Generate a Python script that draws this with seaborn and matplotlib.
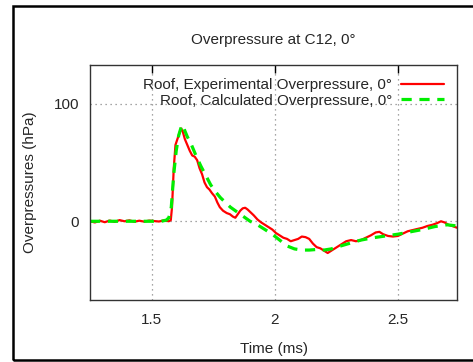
import numpy as np
import pandas as pd
import matplotlib
matplotlib.use("Agg")
import matplotlib.pyplot as plt
from matplotlib.patches import Rectangle
import seaborn as sns

# values
exp_time = [1.25, 1.27, 1.29, 1.31, 1.33, 1.35, 1.37, 1.39, 1.41, 1.43, 1.45, 1.47,
            1.49, 1.51, 1.53, 1.55, 1.57, 1.578, 1.583, 1.59, 1.597, 1.605, 1.613, 1.62,
            1.627, 1.635, 1.645, 1.655, 1.665, 1.675, 1.685, 1.695, 1.705, 1.715, 1.725,
            1.735, 1.745, 1.757, 1.767, 1.777, 1.79, 1.805, 1.818, 1.83, 1.84, 1.85, 1.86,
            1.87, 1.88, 1.89, 1.9, 1.915, 1.93, 1.945, 1.96, 1.975, 1.99, 2.005, 2.02,
            2.035, 2.05, 2.065, 2.08, 2.095, 2.11, 2.125, 2.14, 2.155, 2.17, 2.185, 2.2,
            2.215, 2.23, 2.245, 2.26, 2.275, 2.29, 2.31, 2.33, 2.35, 2.37, 2.39, 2.41,
            2.425, 2.44, 2.46, 2.48, 2.5, 2.52, 2.54, 2.56, 2.58, 2.6, 2.62, 2.64, 2.66,
            2.675, 2.69, 2.705, 2.72, 2.74]
exp_press = [0, -1, 0.5, -0.8, 0.6, -0.5, 1, 0, 0.8, -0.4, 0.5, -0.3,
             0.6, 0.2, -0.2, 0.8, 0, 1, 12, 45, 65, 70, 75, 79,
             76, 70, 65, 60, 56, 55, 52, 45, 40, 33, 29,
             27, 24, 21, 16, 12, 9, 7, 6, 4, 3, 6, 9,
             11, 11.5, 10, 8, 5, 1.5, -1, -3, -5, -7, -10, -12,
             -14, -15, -17, -16, -15, -13, -13.5, -15, -19, -22, -23, -25,
             -27, -25, -23, -21, -19, -17, -16, -17, -16, -14, -12, -9.5,
             -9, -11, -12.5, -13, -12.5, -10.5, -8.5, -7.5, -6.5, -5.5, -4, -3, -1.5,
             0, -1, -3, -4, -5.5]

calc_time = [1.25, 1.3, 1.35, 1.4, 1.45, 1.5, 1.54, 1.56, 1.57, 1.58, 1.59, 1.6,
             1.61, 1.62, 1.627, 1.635, 1.645, 1.66, 1.68, 1.7, 1.72, 1.74, 1.76, 1.78,
             1.8, 1.82, 1.84, 1.86, 1.88, 1.9, 1.93, 1.96, 1.99, 2.02, 2.05, 2.08,
             2.11, 2.14, 2.17, 2.2, 2.23, 2.26, 2.3, 2.35, 2.4, 2.45, 2.5, 2.55,
             2.6, 2.65, 2.7, 2.74]
calc_press = [0, 0, 0, 0, 0, 0, 0, 1, 3, 12, 40, 60,
              73, 80, 82, 77, 72, 66, 56, 47, 39, 31, 25, 20,
              16, 12, 9, 6, 3, 0, -3, -7, -11, -16, -21, -23.5,
              -24.5, -24.5, -24, -24.5, -23.5, -21.5, -19, -16, -14, -12.5, -11, -9,
              -7, -4.5, -3, -4]

x_ticks = [1.5, 2, 2.5]
y_ticks = [0, 100]

exp_label = "Roof, Experimental Overpressure, 0°"
calc_label = "Roof, Calculated Overpressure, 0°"

df_exp = pd.DataFrame({"time": exp_time, "press": exp_press})
df_calc = pd.DataFrame({"time": calc_time, "press": calc_press})

sns.set_style("white")
plt.rcParams["font.family"] = ["Liberation Sans", "DejaVu Sans"]
fs = 11

fig = plt.figure(figsize=(4.73, 3.62), dpi=100)
ax = fig.add_axes([90 / 473, 1 - 300 / 362, 367 / 473, 235 / 362])

sns.lineplot(data=df_exp, x="time", y="press", ax=ax, color="#ff0000",
             lw=1.6, estimator=None, label=exp_label)
sns.lineplot(data=df_calc, x="time", y="press", ax=ax, color="#00ee00",
             lw=2.3, estimator=None, label=calc_label, dashes=False)
ax.lines[1].set_dashes((3.2, 2.4))

ax.set_xlim(1.25, 2.74)
ax.set_ylim(-67, 133)
ax.set_xticks(x_ticks)
ax.set_xticklabels(["1.5", "2", "2.5"])
ax.set_yticks(y_ticks)
ax.grid(True, color="#888888", linestyle=(0, (1, 3)), lw=0.9)

ax.tick_params(axis="x", direction="in", length=6, width=1, top=True,
               labelsize=fs, pad=9, color="black")
ax.tick_params(axis="y", direction="in", length=6, width=1, right=False,
               labelsize=fs, pad=8, color="black")
for s in ax.spines.values():
    s.set_color("#333333")
    s.set_linewidth(1)

ax.set_xlabel("Time (ms)", fontsize=fs, labelpad=11)
ax.set_ylabel("Overpressures (hPa)", fontsize=fs, labelpad=12)
ax.set_title("Overpressure at C12, 0°", fontsize=fs, pad=15)

ax.legend(loc="upper right", markerfirst=False, frameon=False, fontsize=fs,
          handlelength=2.8, handletextpad=0.6, labelspacing=0.12,
          borderaxespad=0.45)

# outer black frame
fig.add_artist(Rectangle((12.5 / 473, 2 / 362), 1.0, 354 / 362,
                         transform=fig.transFigure, fill=False,
                         edgecolor="black", lw=1.8))

fig.savefig("out.png", dpi=100)
